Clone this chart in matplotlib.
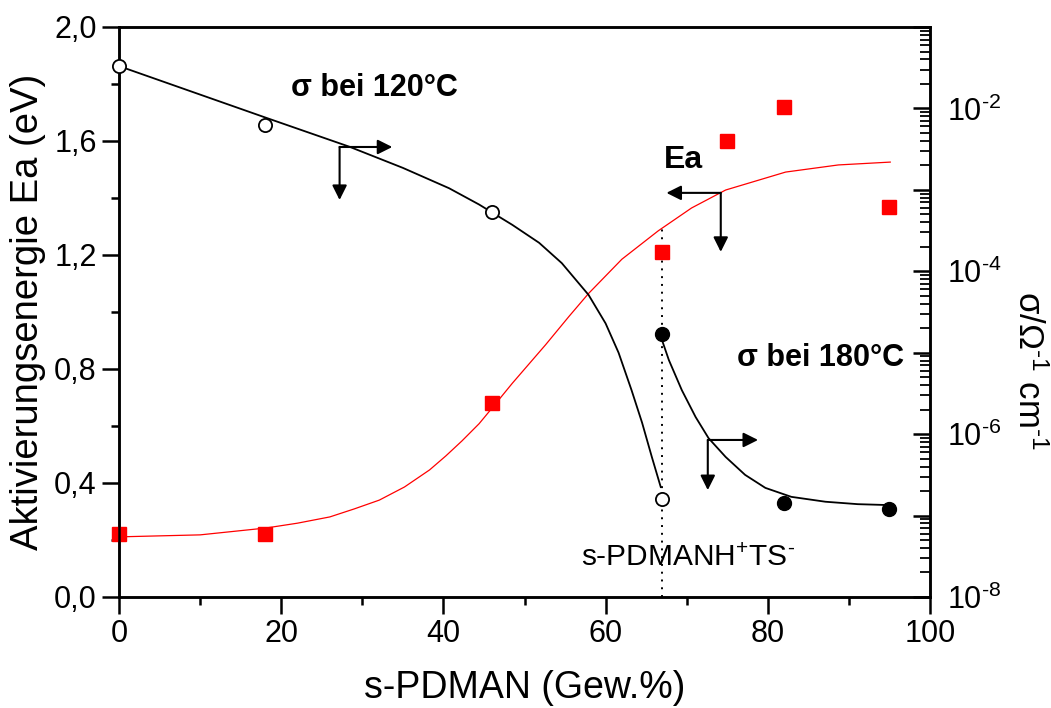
import numpy as np
import matplotlib
matplotlib.use('Agg')
import matplotlib.pyplot as plt
from matplotlib.ticker import FuncFormatter, MultipleLocator, LogLocator

plt.rcParams['font.family'] = ['Liberation Sans', 'DejaVu Sans']
plt.rcParams['mathtext.fontset'] = 'custom'
plt.rcParams['mathtext.rm'] = 'Liberation Sans'
plt.rcParams['mathtext.it'] = 'Liberation Sans:italic'
plt.rcParams['mathtext.bf'] = 'Liberation Sans:bold'

# activation energy (left axis)
ea_x = [0, 18, 46, 67, 75, 82, 95]
ea_y = [0.22, 0.22, 0.68, 1.21, 1.60, 1.72, 1.37]
# fitted curve for Ea
ea_fit_x = [0, 10, 18.1, 22, 26, 29, 32.1, 35.2, 38.3, 40.3, 42.3, 44.4, 46, 48.5, 52.6, 55.5,
            57.9, 62.0, 66.5, 70.6, 74.8, 82.2, 88.7, 95.1]
ea_fit_y = [0.211, 0.218, 0.242, 0.259, 0.281, 0.309, 0.340, 0.386, 0.446, 0.495, 0.548, 0.608,
            0.663, 0.75, 0.885, 0.985, 1.065, 1.185, 1.285, 1.365, 1.428, 1.491, 1.516, 1.526]

# conductivity at 120 C (right axis, log10 values)
s120_x = [0, 18, 46, 67]
s120_log = [-1.48, -2.20, -3.27, -6.80]
s120_fit_x = [0, 10, 18, 28.4, 35, 40.7, 44.4, 48.5, 51.8, 54.6, 57.9, 60.0, 61.6, 63.2, 64.5,
              65.7, 66.8]
s120_fit_log = [-1.48, -1.83, -2.11, -2.47, -2.73, -2.98, -3.18, -3.43, -3.65, -3.90, -4.29,
                -4.64, -5.00, -5.46, -5.86, -6.28, -6.65]

# conductivity at 180 C
s180_x = [67, 82, 95]
s180_log = [-4.77, -6.85, -6.92]
s180_fit_x = [66.8, 67.8, 69.4, 71.1, 72.7, 74.8, 77.2, 79.7, 82.9, 87.1, 91.1, 94.5]
s180_fit_log = [-4.80, -5.09, -5.46, -5.79, -6.05, -6.28, -6.50, -6.66, -6.77, -6.83, -6.86, -6.87]

salt_x = 67  # s-PDMANH+TS-

fig = plt.figure(figsize=(10.51, 7.08), dpi=100)
ax = fig.add_axes([119 / 1051, 1 - 597 / 708, (930 - 119) / 1051, (597 - 27) / 708])

ax.plot(ea_fit_x, ea_fit_y, color='red', lw=0.9, zorder=2)
ax.plot(ea_x, ea_y, 's', color='red', ms=9.5, mec='red', zorder=3, clip_on=False)
ax.plot([salt_x, salt_x], [0, 1.305], color='k', lw=1.4, ls=(0, (1, 3)))

ax.set_xlim(0, 100)
ax.set_ylim(0, 2.0)
ax.xaxis.set_major_locator(MultipleLocator(20))
ax.xaxis.set_minor_locator(MultipleLocator(10))
ax.yaxis.set_major_locator(MultipleLocator(0.4))
ax.yaxis.set_minor_locator(MultipleLocator(0.2))
ax.yaxis.set_major_formatter(FuncFormatter(lambda v, p: f'{v:.1f}'.replace('.', ',')))
ax.tick_params(which='major', direction='out', length=12, width=1.8, labelsize=22, pad=4)
ax.tick_params(which='minor', direction='out', length=6, width=1.8)
for sp in ax.spines.values():
    sp.set_linewidth(1.8)
ax.set_xlabel('s-PDMAN (Gew.%)', fontsize=27, labelpad=15)
ax.set_ylabel('Aktivierungsenergie Ea (eV)', fontsize=27.5, labelpad=6)

ax2 = ax.twinx()
ax2.set_yscale('log')
ax2.set_ylim(1e-8, 1e-1)
ax2.plot(s120_fit_x, 10 ** np.array(s120_fit_log), color='k', lw=1.3, zorder=2)
ax2.plot(s120_x, 10 ** np.array(s120_log), 'o', ms=9.5, mfc='white', mec='k', mew=1.3, zorder=3,
         clip_on=False)
ax2.plot(s180_fit_x, 10 ** np.array(s180_fit_log), color='k', lw=1.3, zorder=2)
ax2.plot(s180_x, 10 ** np.array(s180_log), 'o', ms=10, mfc='k', mec='k', zorder=3)
ax2.yaxis.set_major_locator(LogLocator(base=10, numticks=20))
ax2.yaxis.set_minor_locator(LogLocator(base=10, subs=np.arange(2, 10), numticks=20))
ax2.yaxis.set_major_formatter(FuncFormatter(
    lambda v, p: r'10$^{\text{-%d}}$' % -round(np.log10(v)) if round(np.log10(v)) % 2 == 0 else ''))
ax2.tick_params(which='major', direction='in', length=12, width=1.8, labelsize=22, pad=12)
ax2.tick_params(which='minor', direction='in', length=7, width=1.3)
for sp in ax2.spines.values():
    sp.set_linewidth(1.8)
fig.text(1028 / 1051, 1 - 370 / 708, r'σ/Ω$^{\text{-1}}$ cm$^{\text{-1}}$', fontsize=25,
         rotation=270, ha='center', va='center')

# L-shaped arrows pointing to the axis each curve belongs to
arrow = dict(arrowstyle='-|>', color='k', lw=1.5, mutation_scale=22, shrinkA=0, shrinkB=0)
for cx, cy, ex, ey in [(27.2, 1.579, 33.7, 1.393), (74.2, 1.418, 67.5, 1.211), (72.6, 0.551, 78.8, 0.375)]:
    ax.annotate('', xy=(ex, cy), xytext=(cx, cy), arrowprops=arrow, zorder=5)
    ax.annotate('', xy=(cx, ey), xytext=(cx, cy), arrowprops=arrow, zorder=5)

ax.text(21.2, 1.786, 'σ bei 120°C', fontsize=22, fontweight='bold', va='center', ha='left')
ax.text(67.2, 1.533, 'Ea', fontsize=23, fontweight='bold', va='center', ha='left')
ax.text(76.2, 0.839, 'σ bei 180°C', fontsize=22, fontweight='bold', va='center', ha='left')
ax.text(57.0, 0.137, r's-PDMANH$^{+}$TS$^{\text{-}}$', fontsize=21.5, va='center', ha='left')

fig.savefig('out.png', dpi=100)
